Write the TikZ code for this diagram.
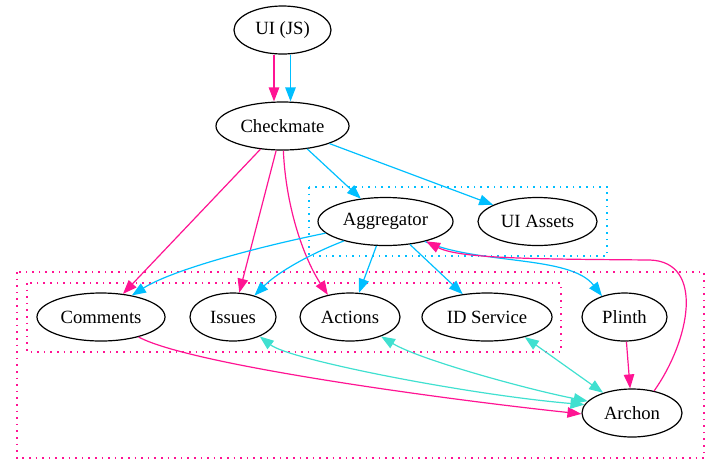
\documentclass[tikz,border=0pt]{standalone}
\usepackage{fontspec}
\setmainfont{Liberation Serif}
\usetikzlibrary{shapes.geometric,arrows.meta}
\definecolor{dpink}{HTML}{FF1493}
\definecolor{dsky}{HTML}{00BFFF}
\definecolor{turq}{HTML}{40E0D0}
\begin{document}
\begin{tikzpicture}[x=1pt,y=-1pt,
  nd/.style={ellipse,draw,line width=1.2pt,inner sep=0pt,minimum height=48pt,
    font=\fontsize{18.67}{22}\selectfont},
  pk/.style={draw=dpink,line width=1.2pt,-{Triangle[length=14pt,width=10.5pt]}},
  bl/.style={draw=dsky,line width=1.2pt,-{Triangle[length=14pt,width=10.5pt]}},
  tq/.style={draw=turq,line width=1.2pt,{Triangle[length=14pt,width=10.5pt]}-{Triangle[length=14pt,width=10.5pt]}},
  clu/.style={line width=1.3pt,dash pattern=on 1.6pt off 5pt}
]
\useasboundingbox (0,0) rectangle (719,475);
% clusters
\draw[clu,draw=dsky] (309,187) rectangle (607,256);
\draw[clu,draw=dpink] (17,272) rectangle (704,458);
\draw[clu,draw=dpink] (27,283) rectangle (561,352);
% nodes
\node[nd,minimum width=97pt] (ui) at (282.5,30) {UI (JS)};
\node[nd,minimum width=133pt] (chk) at (282.5,126) {Checkmate};
\node[nd,minimum width=135pt] (agg) at (385.5,221.5) {Aggregator};
\node[nd,minimum width=119pt] (uia) at (537.5,221.5) {UI Assets};
\node[nd,minimum width=128pt] (com) at (101,317) {Comments};
\node[nd,minimum width=86pt] (iss) at (233,317) {Issues};
\node[nd,minimum width=100pt] (act) at (350,317) {Actions};
\node[nd,minimum width=130pt] (ids) at (487,317) {ID Service};
\node[nd,minimum width=85pt] (pli) at (624.5,317) {Plinth};
\node[nd,minimum width=100pt] (arc) at (632,413) {Archon};
\coordinate (bend) at (650,260);
% edges
\draw[pk] ([xshift=-8.5pt]ui.south) -- ([xshift=-8.5pt]chk.north);
\draw[bl] ([xshift=8pt]ui.south) -- ([xshift=8pt]chk.north);
\draw[pk] (chk) -- (com);
\draw[pk] (chk) -- (iss);
\draw[pk] (chk.-88) .. controls (286,210) and (305,260) .. (act.135);
\draw[bl] (chk) -- (agg);
\draw[bl] (chk) -- (uia);
\draw[bl] (agg.-169) .. controls (257,247) and (172,270) .. (com.35);
\draw[bl] (agg.-155) .. controls (310,254) and (278,272) .. (iss.45);
\draw[bl] (agg) -- (act);
\draw[bl] (agg) -- (ids);
\draw[bl] (agg.-27) .. controls (480,265) and (570,255) .. (pli.137);
\draw[pk] (arc.45) .. controls (690,340) and (705,262) .. (bend) .. controls (540,259) and (460,259) .. (agg.-26);
\draw[pk] (pli) -- (arc);
\draw[pk] (com.-28) .. controls (190,365) and (450,400) .. (arc.181);
\draw[tq] (iss.-36) .. controls (290,360) and (470,395) .. (arc.170);
\draw[tq] (act.-32) .. controls (420,360) and (530,390) .. (arc.165);
\draw[tq] (ids.-28) -- (arc.145);
\end{tikzpicture}
\end{document}
